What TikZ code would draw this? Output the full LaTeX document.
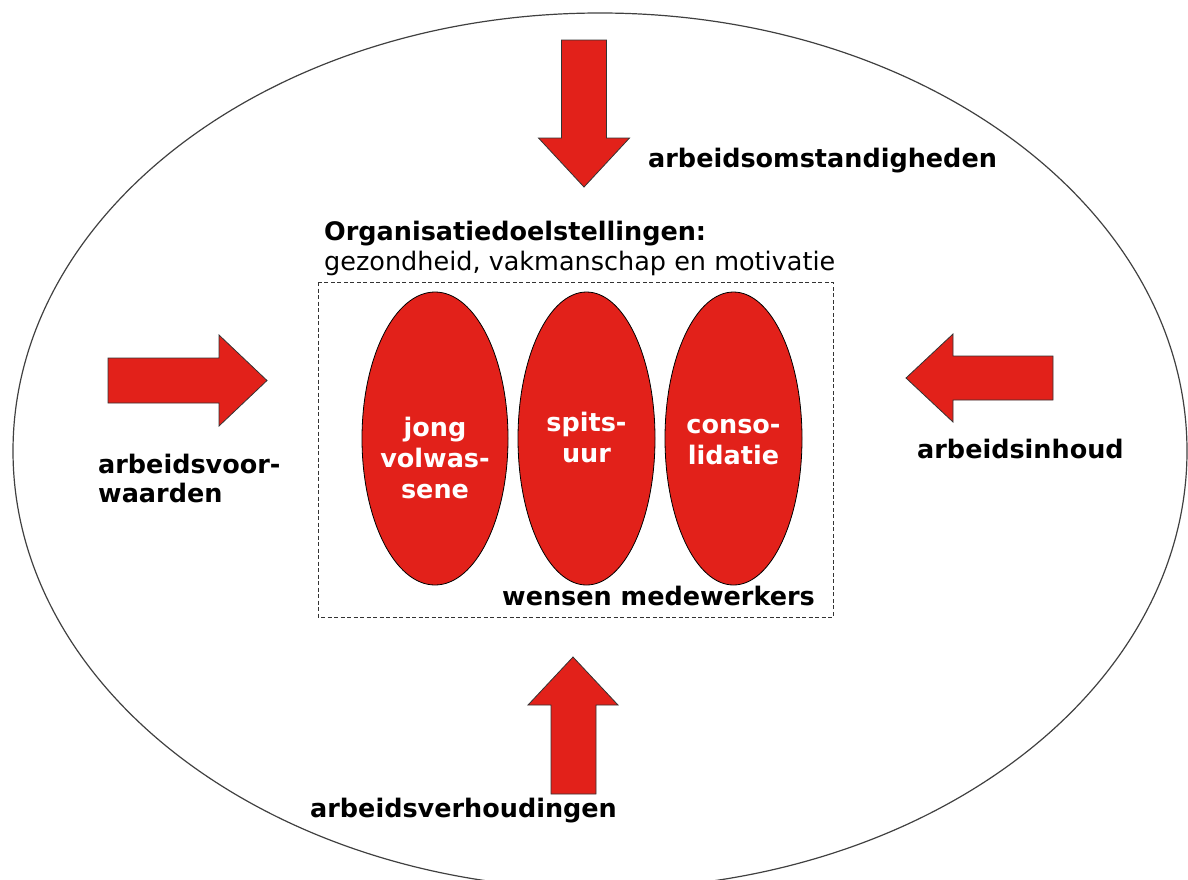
\documentclass[tikz,border=0pt]{standalone}
\usepackage{fontspec}
\setmainfont{DejaVu Sans}
\usepackage{tikz}
\usepackage{xcolor}
\usetikzlibrary{shapes.geometric}
\definecolor{rood}{RGB}{226,33,26}

\begin{document}
\begin{tikzpicture}[x=1pt,y=-1pt,
  lbl/.style={font=\bfseries\fontsize{25.5}{29}\selectfont,inner sep=0,anchor=base west},
  fase/.style={ellipse,draw=black,line width=0.8pt,fill=rood,minimum width=137pt,minimum height=293pt,inner sep=0},
  fasetxt/.style={text=white,font=\bfseries\fontsize{25.5}{31}\selectfont,align=center,inner sep=0,anchor=base},
  blokpijl/.style={draw=black!80,line width=0.8pt,fill=rood}]
\useasboundingbox (0,0) rectangle (1188,879);
\begin{scope}
\clip (0,0) rectangle (1188,879);
\draw[black!75,line width=1.2pt] (600,451) ellipse [x radius=587,y radius=438];
\end{scope}

\draw[blokpijl] (561.5,40)--(606.5,40)--(606.5,138)--(629.5,138)--(584,187)--(538.5,138)--(561.5,138)--cycle;
\draw[blokpijl] (108,358)--(219,358)--(219,335)--(267,380.5)--(219,426)--(219,403)--(108,403)--cycle;
\draw[blokpijl] (1053,356)--(953,356)--(953,334)--(906,378)--(953,422)--(953,400)--(1053,400)--cycle;
\draw[blokpijl] (551,794)--(551,705)--(528,705)--(573,657)--(618,705)--(596,705)--(596,794)--cycle;

\draw[black!80,line width=0.8pt,dash pattern=on 4pt off 2.5pt] (318,282) rectangle (833,617);

\node[fase,minimum width=146pt] (jong) at (435,438.5) {};
\node[fase] (spits) at (586.5,438.5) {};
\node[fase] (conso) at (733.5,438.5) {};
\node[fasetxt] (jongtxt) at (435,498) {jong\\volwas-\\sene};
\node[fasetxt] (spitstxt) at (586.5,462) {spits-\\uur};
\node[fasetxt] (consotxt) at (733.5,464) {conso-\\lidatie};

\node[lbl] (doelen) at (324,240) {Organisatiedoelstellingen:};
\node[lbl,font=\fontsize{25.5}{30}\selectfont] (doelen2) at (324,270) {gezondheid, vakmanschap en motivatie};
\node[lbl] (wensen) at (502,605) {wensen medewerkers};
\node[lbl] (omst) at (648,167) {arbeidsomstandigheden};
\node[lbl,align=left] (voorw) at (98,502) {arbeidsvoor-\\waarden};
\node[lbl] (inhoud) at (917,458) {arbeidsinhoud};
\node[lbl] (verh) at (310,817) {arbeidsverhoudingen};
\end{tikzpicture}
\end{document}
